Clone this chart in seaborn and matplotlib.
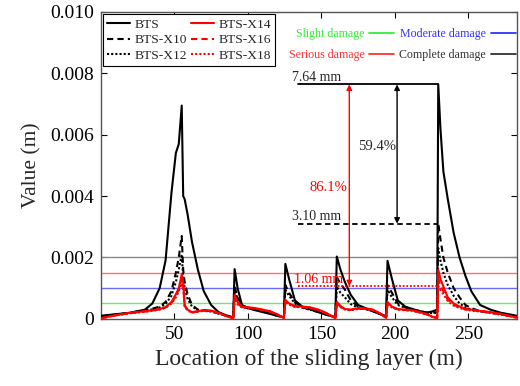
import numpy as np
import pandas as pd
import matplotlib
matplotlib.use("Agg")
import matplotlib.pyplot as plt
from matplotlib.lines import Line2D
import seaborn as sns

# ---------------- data (displacement in mm) ----------------
x_loc = [0, 10, 20, 30, 35, 40, 44, 48, 51, 53, 55, 56, 57, 59, 62, 66, 70, 75, 80, 85, 90,
         91, 93, 96, 100, 105, 110, 115, 120, 124.5,
         125.5, 128, 132, 137, 142, 148, 153, 159.5,
         160.5, 163, 166, 170, 175, 180, 185, 190, 194,
         195, 198, 202, 207, 212, 217, 222, 226, 228.8,
         229.5, 231, 233, 236, 240, 244, 248, 252, 258, 265, 272, 283]

bts = [0.10, 0.15, 0.20, 0.30, 0.50, 1.0, 1.9, 4.1, 5.4, 5.7, 6.95, 4.0, 3.9, 3.4, 2.5, 1.6, 0.9, 0.45, 0.22, 0.12, 0.05,
       1.62, 1.0, 0.45, 0.35, 0.28, 0.22, 0.16, 0.10, 0.05,
       1.79, 1.3, 0.6, 0.40, 0.32, 0.22, 0.14, 0.05,
       2.03, 1.6, 1.2, 0.78, 0.45, 0.35, 0.25, 0.15, 0.08,
       1.89, 1.3, 0.6, 0.40, 0.32, 0.25, 0.20, 0.25, 0.30,
       7.64, 6.2, 4.8, 3.9, 2.8, 2.0, 1.4, 0.9, 0.45, 0.30, 0.20, 0.10]

bts_x10 = [0.08, 0.14, 0.20, 0.28, 0.33, 0.40, 0.55, 0.9, 1.5, 2.0, 2.7, 1.6, 1.2, 0.8, 0.45, 0.30, 0.28, 0.25, 0.18, 0.10, 0.04,
           1.05, 0.7, 0.45, 0.35, 0.30, 0.25, 0.18, 0.10, 0.05,
           1.1, 0.85, 0.55, 0.38, 0.30, 0.22, 0.14, 0.05,
           1.35, 1.15, 0.95, 0.6, 0.40, 0.33, 0.25, 0.16, 0.08,
           1.1, 0.85, 0.5, 0.38, 0.30, 0.25, 0.20, 0.20, 0.22,
           3.10, 2.6, 2.0, 1.5, 1.0, 0.7, 0.45, 0.35, 0.25, 0.20, 0.15, 0.08]

bts_x12 = [0.07, 0.13, 0.19, 0.27, 0.31, 0.37, 0.48, 0.75, 1.2, 1.6, 2.1, 1.3, 1.0, 0.65, 0.40, 0.28, 0.26, 0.24, 0.17, 0.10, 0.04,
           0.95, 0.65, 0.42, 0.34, 0.30, 0.25, 0.18, 0.10, 0.05,
           0.95, 0.75, 0.5, 0.36, 0.30, 0.22, 0.14, 0.05,
           1.05, 0.85, 0.7, 0.48, 0.36, 0.32, 0.25, 0.16, 0.08,
           0.95, 0.7, 0.45, 0.36, 0.30, 0.25, 0.20, 0.18, 0.20,
           2.3, 1.9, 1.5, 1.1, 0.75, 0.5, 0.38, 0.30, 0.24, 0.20, 0.14, 0.07]

bts_x14 = [0.02, 0.12, 0.20, 0.25, 0.28, 0.32, 0.38, 0.55, 0.8, 1.0, 1.45, 1.2, 0.45, 0.30, 0.22, 0.25, 0.28, 0.27, 0.20, 0.10, 0.02,
           0.78, 0.55, 0.40, 0.38, 0.35, 0.30, 0.25, 0.15, 0.03,
           0.62, 0.50, 0.42, 0.40, 0.38, 0.30, 0.20, 0.03,
           0.55, 0.42, 0.32, 0.30, 0.35, 0.34, 0.30, 0.18, 0.03,
           0.55, 0.40, 0.32, 0.30, 0.28, 0.22, 0.15, 0.06, 0.03,
           1.6, 1.3, 1.05, 0.7, 0.5, 0.4, 0.33, 0.30, 0.26, 0.22, 0.16, 0.04]

bts_x16 = [0.02, 0.11, 0.19, 0.24, 0.27, 0.31, 0.37, 0.52, 0.75, 0.95, 1.30, 1.1, 0.42, 0.28, 0.21, 0.24, 0.27, 0.26, 0.19, 0.10, 0.02,
           0.70, 0.50, 0.38, 0.36, 0.34, 0.29, 0.24, 0.14, 0.03,
           0.58, 0.48, 0.40, 0.38, 0.36, 0.29, 0.19, 0.03,
           0.50, 0.40, 0.31, 0.29, 0.33, 0.33, 0.29, 0.17, 0.03,
           0.50, 0.38, 0.31, 0.29, 0.27, 0.21, 0.14, 0.06, 0.03,
           1.30, 1.1, 0.9, 0.62, 0.46, 0.37, 0.31, 0.28, 0.25, 0.21, 0.15, 0.04]

bts_x18 = [0.02, 0.11, 0.18, 0.23, 0.26, 0.30, 0.36, 0.50, 0.70, 0.90, 1.15, 1.0, 0.40, 0.27, 0.20, 0.23, 0.26, 0.25, 0.18, 0.09, 0.02,
           0.65, 0.47, 0.36, 0.35, 0.33, 0.28, 0.23, 0.13, 0.03,
           0.55, 0.46, 0.39, 0.37, 0.35, 0.28, 0.18, 0.03,
           0.48, 0.38, 0.30, 0.28, 0.32, 0.32, 0.28, 0.16, 0.03,
           0.48, 0.37, 0.30, 0.28, 0.26, 0.20, 0.13, 0.05, 0.03,
           1.06, 0.95, 0.8, 0.58, 0.43, 0.35, 0.30, 0.27, 0.24, 0.20, 0.14, 0.04]

series_names = ["BTS", "BTS-X10", "BTS-X12", "BTS-X14", "BTS-X16", "BTS-X18"]
series_vals = [bts, bts_x10, bts_x12, bts_x14, bts_x16, bts_x18]

damage_labels = ["Slight damage", "Moderate damage", "Serious damage", "Complete damage"]
damage_levels = [0.0005, 0.0010, 0.0015, 0.0020]

peak_bts = 7.64
peak_x10 = 3.10
peak_x18 = 1.06
reduction_x10 = "59.4%"
reduction_x18 = "86.1%"

# ---------------- build long table ----------------
rows = []
for name, vals in zip(series_names, series_vals):
    for xv, yv in zip(x_loc, vals):
        rows.append({"x": xv, "y": yv / 1000.0, "series": name})
df = pd.DataFrame(rows)

sns.set_theme(style="ticks")
plt.rcParams["font.family"] = ["Liberation Serif", "DejaVu Serif"]

fig = plt.figure(figsize=(5.2, 3.86), dpi=100)
ax = fig.add_axes([0.194, 0.174, 0.800, 0.795])

palette = {"BTS": "black", "BTS-X10": "black", "BTS-X12": "black",
           "BTS-X14": "#ff0000", "BTS-X16": "#ff0000", "BTS-X18": "#ff0000"}
dashes = {"BTS": "", "BTS-X10": (3, 2), "BTS-X12": (1, 1),
          "BTS-X14": "", "BTS-X16": (3, 2), "BTS-X18": (1, 1)}

# damage threshold lines
damage_colors = ["#33ee33", "#3333ff", "#ff3333", "#333333"]
damage_line_colors = ["#66ee66", "#6a6aff", "#ff7070", "#888888"]
for lvl, c in zip(damage_levels, damage_line_colors):
    ax.axhline(lvl, color=c, lw=1.0, zorder=1)

sns.lineplot(data=df, x="x", y="y", hue="series", style="series",
             palette=palette, dashes=dashes, estimator=None, sort=False,
             linewidth=1.5, legend=False, ax=ax, zorder=3)

ax.set_xlim(0, 283)
ax.set_ylim(0, 0.010)
ax.set_xticks([50, 100, 150, 200, 250])
ax.set_yticks([0, 0.002, 0.004, 0.006, 0.008, 0.010])
ax.set_yticklabels(["0", "0.002", "0.004", "0.006", "0.008", "0.010"])
ax.tick_params(direction="in", top=True, right=True, labelsize=14, length=4, width=0.8,
               colors="black", pad=5)
for s in ax.spines.values():
    s.set_color("#555555")
    s.set_linewidth(1.0)
ax.set_xlabel("Location of the sliding layer (m)", fontsize=17, labelpad=4)
ax.set_ylabel("Value (m)", fontsize=15.5, labelpad=6)

# annotation lines and arrows
x0_ann, x1_ann = 134, 229.5
ax.plot([x0_ann, x1_ann], [peak_bts / 1000] * 2, color="black", lw=1.3, zorder=4)
ax.plot([x0_ann, x1_ann], [peak_x10 / 1000] * 2, color="black", lw=1.3, ls=(0, (3, 2)), zorder=4)
ax.plot([x0_ann, x1_ann], [peak_x18 / 1000] * 2, color="#ff0000", lw=1.3, ls=(0, (1, 1)), zorder=4)
ax.text(130, peak_bts / 1000 + 0.00002, f"{peak_bts:.2f} mm", fontsize=10, ha="left", va="bottom")
ax.text(130, peak_x10 / 1000 + 0.00002, f"{peak_x10:.2f} mm", fontsize=10, ha="left", va="bottom")
ax.text(131.5, peak_x18 / 1000 + 0.00002, f"{peak_x18:.2f} mm", fontsize=10, ha="left", va="bottom",
        color="#ff0000")

ax.annotate("", xy=(201.5, peak_x10 / 1000), xytext=(201.5, peak_bts / 1000),
            arrowprops=dict(arrowstyle="<|-|>", color="black", lw=1.0, mutation_scale=8,
                            shrinkA=0, shrinkB=0))
ax.annotate("", xy=(169, peak_x18 / 1000), xytext=(169, peak_bts / 1000),
            arrowprops=dict(arrowstyle="<|-|>", color="#ff0000", lw=1.0, mutation_scale=8,
                            shrinkA=0, shrinkB=0))
ax.text(201, 0.0056, reduction_x10, fontsize=10.5, ha="right", va="center")
ax.text(167.5, 0.00427, reduction_x18, fontsize=10.5, ha="right", va="center", color="#ff0000")

# series legend
handles = [Line2D([], [], color=palette[n], lw=1.5,
                  ls="-" if dashes[n] == "" else (0, dashes[n])) for n in series_names]
leg1 = ax.legend(handles, series_names,
                 ncol=2, loc="upper left", bbox_to_anchor=(0.004, 0.992), fontsize=9.7,
                 frameon=True, fancybox=False, edgecolor="black", framealpha=1,
                 handlelength=1.75, handletextpad=0.3, columnspacing=0.3,
                 labelspacing=0.22, borderpad=0.3, borderaxespad=0.0)
leg1.get_frame().set_linewidth(0.8)
ax.add_artist(leg1)

# damage legend
dh = [Line2D([], [], color=c, lw=1.3) for c in damage_colors]
leg2 = ax.legend([dh[0], dh[2], dh[1], dh[3]],
                 [damage_labels[0], damage_labels[2], damage_labels[1], damage_labels[3]],
                 ncol=2, loc="upper right", bbox_to_anchor=(0.997, 0.948), fontsize=8.6,
                 frameon=False, markerfirst=False, handlelength=2.1, handletextpad=0.4,
                 columnspacing=0.4, labelspacing=0.75, borderpad=0.0, borderaxespad=0.0,
                 labelcolor=[damage_colors[0], damage_colors[2], damage_colors[1], damage_colors[3]])

fig.savefig("out.png", dpi=100)
